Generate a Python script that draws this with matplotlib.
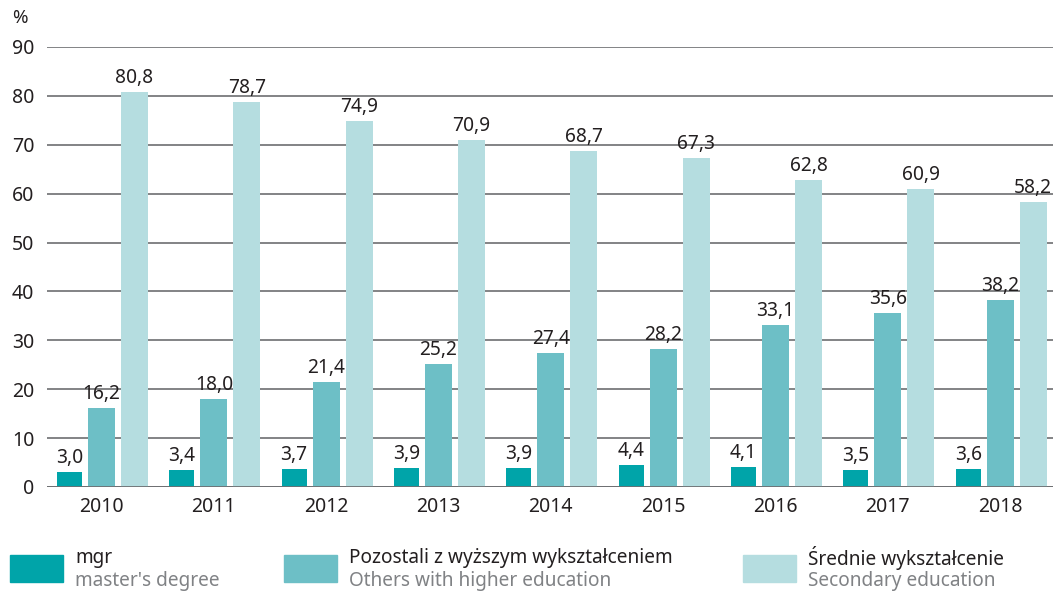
import numpy as np
import matplotlib
matplotlib.use("Agg")
import matplotlib.pyplot as plt
from matplotlib.patches import Rectangle

plt.rcParams['font.family'] = ['Noto Sans', 'DejaVu Sans']

years = ['2010', '2011', '2012', '2013', '2014', '2015', '2016', '2017', '2018']
mgr = [3.0, 3.4, 3.7, 3.9, 3.9, 4.4, 4.1, 3.5, 3.6]
others = [16.2, 18.0, 21.4, 25.2, 27.4, 28.2, 33.1, 35.6, 38.2]
secondary = [80.8, 78.7, 74.9, 70.9, 68.7, 67.3, 62.8, 60.9, 58.2]

series = [
    (mgr, '#00a4a9', 'mgr', "master's degree"),
    (others, '#6dbfc6', 'Pozostali z wyższym wykształceniem', 'Others with higher education'),
    (secondary, '#b5dde0', 'Średnie wykształcenie', 'Secondary education'),
]

TXT = '#231f20'
GRID = '#6d6e71'

fig = plt.figure(figsize=(10.53, 5.91), dpi=100)
ax = fig.add_axes([47 / 1053, 1 - 487 / 591, 1 - 47 / 1053, (487 - 47) / 591])

x = np.arange(len(years))
widths = [0.225, 0.24, 0.24]
offsets = [-0.285, 0.0, 0.294]

for (vals, col, _, _), off, w in zip(series, offsets, widths):
    rects = ax.bar(x + off, vals, w, color=col, zorder=3)
    labels = [f'{v:.1f}'.replace('.', ',') for v in vals]
    ax.bar_label(rects, labels=labels, padding=3, fontsize=13.8, color=TXT)

ax.set_ylim(0, 90)
ax.set_xlim(-0.485, 8.47)
ax.set_yticks(range(0, 91, 10))
ax.yaxis.grid(True, color=GRID, linewidth=1.2, zorder=0)
ax.axhline(0, color=GRID, linewidth=2, zorder=4)
for s in ax.spines.values():
    s.set_visible(False)
ax.tick_params(axis='y', length=0, pad=9, labelsize=14, labelcolor=TXT)
ax.tick_params(axis='x', length=0, pad=7, labelsize=14, labelcolor=TXT)
ax.set_xticks(x, years)

fig.text(12 / 1053, 1 - 18 / 591, '%', fontsize=13.5, color=TXT, va='center')

# legend drawn below the axes
leg_x = [10, 284, 743]
for (vals, col, name, eng), lx in zip(series, leg_x):
    fig.patches.append(Rectangle((lx / 1053, 1 - 582 / 591), 53 / 1053, 27 / 591,
                                 transform=fig.transFigure, color=col))
    fig.text((lx + 65) / 1053, 1 - 558 / 591, name, fontsize=13.7, color=TXT, va='center')
    fig.text((lx + 65) / 1053, 1 - 581 / 591, eng, fontsize=13.7, color='#808285', va='center')

fig.savefig('out.png', dpi=100)
